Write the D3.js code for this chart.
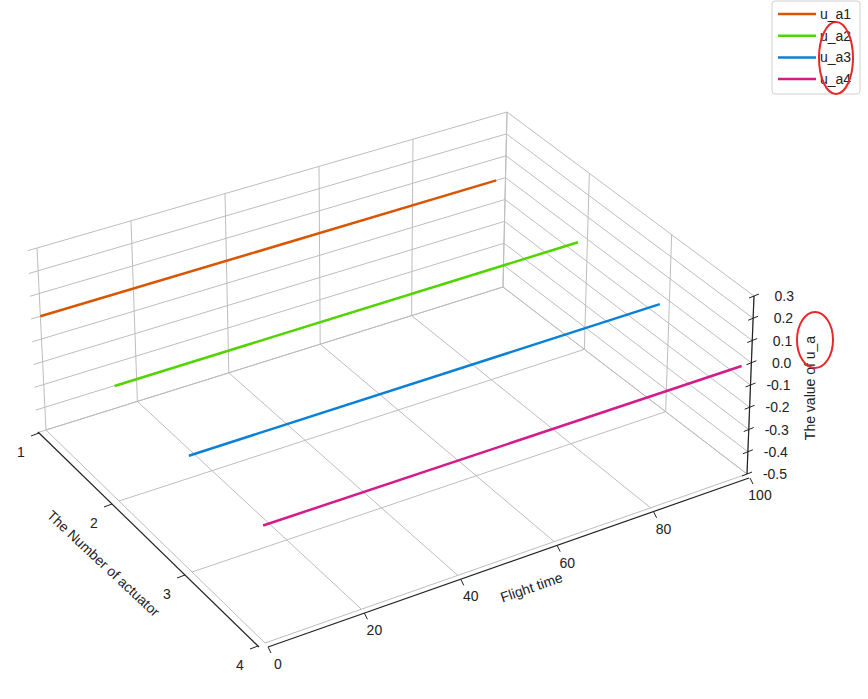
<!DOCTYPE html>
<html>
<head>
<meta charset="utf-8">
<script src="https://d3js.org/d3.v7.min.js"></script>
<style>
  body { margin: 0; background: #fff; }
  text { font-family: Arial, "Liberation Sans", sans-serif; font-size: 14px; fill: #222; }
</style>
</head>
<body>
<svg id="main" width="868" height="699"></svg>
<script>
  // data
  const seriesNames = ["u_a1", "u_a2", "u_a3", "u_a4"];
  const actuators = [1, 2, 3, 4];
  const colors = ["#d95500", "#52d400", "#0a80d6", "#d41a8c"];
  const flightTime = [0, 98];
  const values = [[0, 0], [0, 0], [0, 0], [0, 0]];
  const xTicks = [0, 20, 40, 60, 80, 100];
  const zTicks = [-0.5, -0.4, -0.3, -0.2, -0.1, 0.0, 0.1, 0.2, 0.3];

  const svg = d3.select("#main");

  // box corners on screen (floor and top)
  const A = [265, 643], B = [747, 474], C = [46, 430], D = [503, 287];
  const A2 = [262, 455], B2 = [754, 296], C2 = [37, 248], D2 = [507, 112];

  const xs = d3.scaleLinear().domain([0, 100]).range([0, 1]);
  const ys = d3.scaleLinear().domain([4, 1]).range([0, 1]);
  const zs = d3.scaleLinear().domain([-0.5, 0.3]).range([0, 1]);

  function bil(p, q, r, s, u, v) {
    return [0, 1].map(i => (1 - u) * (1 - v) * p[i] + u * (1 - v) * q[i] + (1 - u) * v * r[i] + u * v * s[i]);
  }
  function P(x, y, z) {
    const u = xs(x), v = ys(y), w = zs(z);
    const f = bil(A, B, C, D, u, v), t = bil(A2, B2, C2, D2, u, v);
    return [f[0] + (t[0] - f[0]) * w, f[1] + (t[1] - f[1]) * w];
  }
  const line = d3.line();
  function seg(p, q, color, width) {
    svg.append("path").attr("d", line([p, q])).attr("stroke", color)
      .attr("stroke-width", width).attr("fill", "none");
  }
  const gridC = "#bdbdbd";

  // floor grid
  xTicks.forEach(x => seg(P(x, 1, -0.5), P(x, 4, -0.5), gridC, 1));
  actuators.forEach(y => seg(P(0, y, -0.5), P(100, y, -0.5), gridC, 1));
  // back wall y=1 (lines run a little past the left edge, as in the picture)
  xTicks.forEach(x => seg(P(x, 1, -0.5), P(x, 1, 0.3), gridC, 1));
  zTicks.forEach(z => seg(P(-2, 1, z), P(100, 1, z), gridC, 1));
  // side wall x=100
  actuators.forEach(y => seg(P(100, y, -0.5), P(100, y, 0.3), gridC, 1));
  zTicks.forEach(z => seg(P(100, 1, z), P(100, 4, z), gridC, 1));

  // series
  seriesNames.forEach((n, i) => {
    const pts = flightTime.map((t, j) => P(t, actuators[i], values[i][j]));
    svg.append("path").attr("d", line(pts)).attr("stroke", colors[i])
      .attr("stroke-width", 2.5).attr("fill", "none");
  });

  // axes
  const off = (p, dx, dy) => [p[0] + dx, p[1] + dy];
  seg(off(P(0, 4, -0.5), 3, 4), off(P(100, 4, -0.5), 2, 4), "#222", 1.2);
  xTicks.forEach(x => {
    const p = off(P(x, 4, -0.5), 3, 4);
    seg(p, off(p, 3, 6), "#222", 1);
    svg.append("text").attr("x", p[0] + 10).attr("y", p[1] + 22)
      .attr("text-anchor", "middle").text(x);
  });
  seg(off(P(0, 1, -0.5), -8, 2), off(P(0, 4, -0.5), -6, 4), "#222", 1.2);
  actuators.forEach(y => {
    const p = off(P(0, y, -0.5), -7, 3);
    seg(p, off(p, -8, 3), "#222", 1);
    svg.append("text").attr("x", p[0] - 18).attr("y", p[1] + 24)
      .attr("text-anchor", "middle").text(y);
  });
  seg(P(100, 4, -0.5), P(100, 4, 0.3), "#222", 1.2);
  zTicks.forEach(z => {
    const p = P(100, 4, z);
    seg(off(p, -5, 2), off(p, 5, -2), "#222", 1);
    svg.append("text").attr("x", p[0] + 40).attr("y", p[1] + 5)
      .attr("text-anchor", "end").text(z.toFixed(1));
  });

  // axis labels
  svg.append("text").attr("transform", "translate(533,592) rotate(-19)")
    .attr("text-anchor", "middle").text("Flight time");
  svg.append("text").attr("transform", "translate(100,567) rotate(43)")
    .attr("text-anchor", "middle").text("The Number of actuator");
  svg.append("text").attr("transform", "translate(815,388) rotate(-90)")
    .attr("text-anchor", "middle").text("The value of u_a");

  // legend
  const lg = svg.append("g");
  lg.append("rect").attr("x", 772).attr("y", 1).attr("width", 88).attr("height", 93)
    .attr("rx", 3).attr("fill", "#fff").attr("stroke", "#d0d0d0");
  seriesNames.forEach((n, i) => {
    const y = 14 + i * 21.7;
    lg.append("line").attr("x1", 778).attr("x2", 816).attr("y1", y).attr("y2", y)
      .attr("stroke", colors[i]).attr("stroke-width", 2.5);
    lg.append("text").attr("x", 820).attr("y", y + 5).text(n);
  });

  // red annotation circles
  svg.append("ellipse").attr("cx", 836).attr("cy", 58).attr("rx", 17).attr("ry", 36)
    .attr("fill", "none").attr("stroke", "#e8282b").attr("stroke-width", 2);
  svg.append("ellipse").attr("cx", 815).attr("cy", 340).attr("rx", 18).attr("ry", 28)
    .attr("fill", "none").attr("stroke", "#e8282b").attr("stroke-width", 2);
</script>
</body>
</html>
